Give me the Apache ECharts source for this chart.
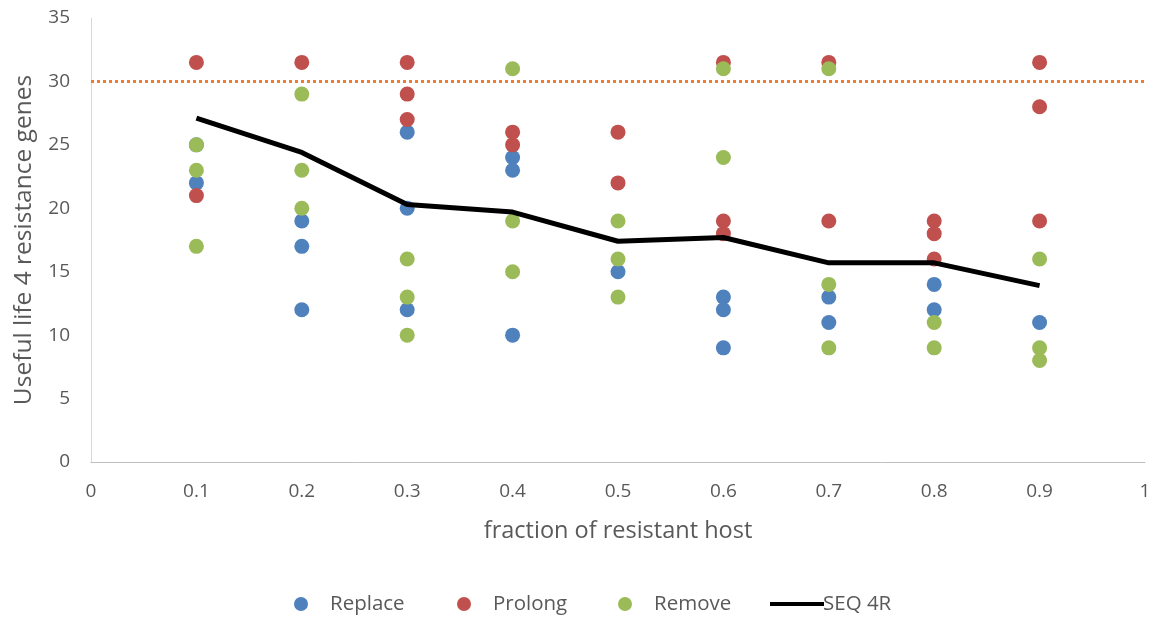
<!DOCTYPE html>
<html>
<head>
<meta charset="utf-8">
<script src="https://cdn.jsdelivr.net/npm/echarts@6/dist/echarts.min.js"></script>
<style>
html,body{margin:0;padding:0;background:#fff;}
#c{width:1159px;height:619px;}
</style>
</head>
<body>
<div id="c"></div>
<script>
const xTicks = [0, 0.1, 0.2, 0.3, 0.4, 0.5, 0.6, 0.7, 0.8, 0.9, 1];
const yTicks = [0, 5, 10, 15, 20, 25, 30, 35];

const replaceData = [
  [0.1, 25], [0.1, 22],
  [0.2, 19], [0.2, 17], [0.2, 12],
  [0.3, 26], [0.3, 20], [0.3, 12],
  [0.4, 24], [0.4, 23], [0.4, 10],
  [0.5, 15],
  [0.6, 13], [0.6, 12], [0.6, 9],
  [0.7, 13], [0.7, 11],
  [0.8, 14], [0.8, 12],
  [0.9, 11]
];
const prolongData = [
  [0.1, 31.5], [0.1, 21],
  [0.2, 31.5],
  [0.3, 31.5], [0.3, 29], [0.3, 27],
  [0.4, 26], [0.4, 25],
  [0.5, 26], [0.5, 22],
  [0.6, 31.5], [0.6, 19], [0.6, 18],
  [0.7, 31.5], [0.7, 19],
  [0.8, 19], [0.8, 18], [0.8, 16],
  [0.9, 31.5], [0.9, 28], [0.9, 19]
];
const removeData = [
  [0.1, 25], [0.1, 23], [0.1, 17],
  [0.2, 29], [0.2, 23], [0.2, 20],
  [0.3, 16], [0.3, 13], [0.3, 10],
  [0.4, 31], [0.4, 19], [0.4, 15],
  [0.5, 19], [0.5, 16], [0.5, 13],
  [0.6, 31], [0.6, 24],
  [0.7, 31], [0.7, 14], [0.7, 9],
  [0.8, 11], [0.8, 9],
  [0.9, 16], [0.9, 9], [0.9, 8]
];
const seqX = [0.1, 0.2, 0.3, 0.4, 0.5, 0.6, 0.7, 0.8, 0.9];
const seqY = [27.1, 24.4, 20.3, 19.7, 17.4, 17.7, 15.7, 15.7, 13.9];
const thresholdValue = 30;

const seqData = seqX.map((x, i) => [x, seqY[i]]);

const labelFont = "'Open Sans', 'Liberation Sans', sans-serif";
const legendText = { color: '#595959', fontSize: 20.5, fontFamily: labelFont, lineHeight: 22 };

const chart = echarts.init(document.getElementById('c'), null, { renderer: 'canvas' });
chart.setOption({
  animation: false,
  backgroundColor: '#fff',
  grid: { left: 91, right: 14, top: 18, bottom: 157, containLabel: false },
  xAxis: {
    type: 'value', min: 0, max: 1, interval: 0.1,
    name: 'fraction of resistant host', nameLocation: 'middle', nameGap: 57,
    nameTextStyle: { color: '#595959', fontSize: 23.5, fontFamily: labelFont },
    axisLine: { show: true, lineStyle: { color: '#bfbfbf', width: 1 } },
    axisTick: { show: false },
    splitLine: { show: false },
    axisLabel: {
      color: '#595959', fontSize: 19, margin: 20,
      fontFamily: labelFont,
      formatter: v => { const t = xTicks.find(k => Math.abs(k - v) < 1e-6); return t === undefined ? '' : String(t); }
    }
  },
  yAxis: {
    type: 'value', min: 0, max: 35, interval: 5,
    name: 'Useful life 4 resistance genes', nameLocation: 'middle', nameGap: 54,
    nameTextStyle: { color: '#595959', fontSize: 24.5, fontFamily: labelFont },
    axisLine: { show: true, lineStyle: { color: '#d9d9d9', width: 1 } },
    axisTick: { show: false },
    splitLine: { show: false },
    axisLabel: {
      color: '#595959', fontSize: 19, margin: 21, fontFamily: labelFont,
      formatter: v => { const t = yTicks.find(k => Math.abs(k - v) < 1e-6); return t === undefined ? '' : String(t); }
    }
  },
  legend: [
    { data: [{ name: 'Replace', icon: 'circle' }], left: 289, top: 588, itemWidth: 14, itemHeight: 14, textStyle: Object.assign({ padding: [0, 0, 0, 17] }, legendText) },
    { data: [{ name: 'Prolong', icon: 'circle' }], left: 452, top: 588, itemWidth: 14, itemHeight: 14, textStyle: Object.assign({ padding: [0, 0, 0, 17] }, legendText) },
    { data: [{ name: 'Remove', icon: 'circle' }], left: 613, top: 588, itemWidth: 14, itemHeight: 14, textStyle: Object.assign({ padding: [0, 0, 0, 17] }, legendText) },
    { data: [{ name: 'SEQ 4R', icon: 'rect' }], left: 765, top: 588, itemWidth: 54, itemHeight: 4, textStyle: Object.assign({ padding: [0, 0, 0, -6] }, legendText) }
  ],
  series: [
    { name: 'Replace', type: 'scatter', data: replaceData, symbol: 'circle', symbolSize: 15, itemStyle: { color: '#4F81BD', opacity: 1 }, z: 3 },
    { name: 'Prolong', type: 'scatter', data: prolongData, symbol: 'circle', symbolSize: 15, itemStyle: { color: '#C0504D', opacity: 1 }, z: 3 },
    { name: 'Remove', type: 'scatter', data: removeData, symbol: 'circle', symbolSize: 15, itemStyle: { color: '#9BBB59', opacity: 1 }, z: 3 },
    {
      name: 'SEQ 4R', type: 'line', data: seqData, showSymbol: false, symbol: 'none',
      lineStyle: { color: '#000', width: 5 }, itemStyle: { color: '#000' }, z: 4,
      markLine: {
        silent: true, symbol: 'none', label: { show: false },
        lineStyle: { color: '#ED7D31', type: [3, 3], width: 3 },
        data: [{ yAxis: thresholdValue }]
      }
    }
  ]
});
</script>
</body>
</html>
